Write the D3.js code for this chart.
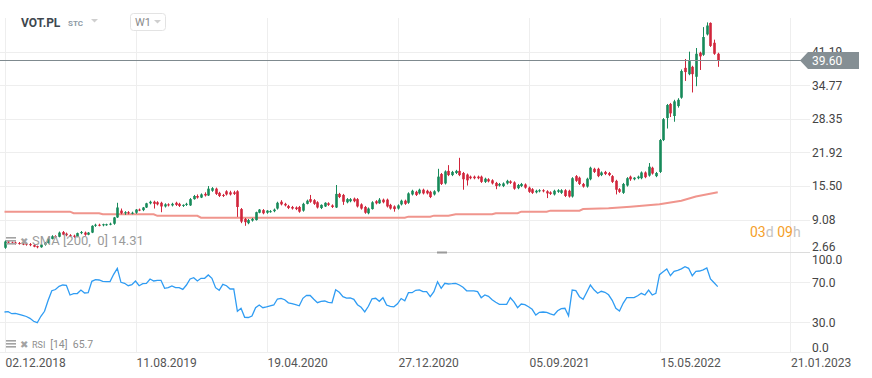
<!DOCTYPE html>
<html><head><meta charset="utf-8">
<script src="https://cdn.jsdelivr.net/npm/d3@7/dist/d3.min.js"></script>
<style>body{margin:0;background:#fff;}svg{display:block;font-family:Roboto,"Noto Sans",sans-serif;}</style>
</head><body><svg id="c" width="872" height="378"></svg>
<script>
// ---- DATA ----
const symbol = "VOT.PL";
const startWeek = "02.12.2018";
const dateTicks = ["02.12.2018","11.08.2019","19.04.2020","27.12.2020","05.09.2021","15.05.2022","21.01.2023"];
const priceTicks = [2.66, 9.08, 15.50, 21.92, 28.35, 34.77, 41.19];
const rsiTicks = [0, 30, 70, 100];
const lastPrice = 39.60;
const smaLast = 14.31;
const rsiLast = 65.7;

const opens = [3.7,4.9,4.7,4.7,4.6,4.5,4.5,4.4,4.2,4.0,3.8,4.3,4.6,5.4,5.9,5.8,6.7,6.4,6.1,6.0,
5.8,6.5,6.6,6.2,6.6,7.9,8.1,8.0,8.0,8.2,8.3,9.5,10.8,10.3,10.5,10.3,10.4,11.0,10.9,11.4,
12.2,12.5,12.4,12.3,11.6,12.0,11.8,12.3,12.1,11.7,11.9,11.8,13.0,13.6,13.3,14.0,13.7,14.6,15.0,14.2,
13.8,14.5,14.3,14.3,14.5,11.1,9.2,8.4,8.9,9.0,10.4,10.9,10.4,10.6,10.7,11.2,12.5,12.1,11.7,11.5,
11.4,11.5,10.8,12.1,13.0,12.8,12.4,11.3,11.6,12.2,11.8,11.4,14.0,13.8,12.4,12.6,13.1,13.0,12.0,11.5,
10.3,11.1,12.6,12.2,12.9,12.9,11.9,11.6,11.2,12.0,12.7,12.3,13.9,14.4,14.1,14.8,14.6,14.4,13.9,14.5,
17.8,16.0,18.4,17.6,18.0,18.4,18.0,17.7,17.3,17.3,17.3,17.3,16.3,16.8,16.6,16.1,15.6,15.5,16.0,16.4,
16.2,15.1,15.5,15.8,15.2,14.9,14.3,14.5,14.7,14.5,14.3,13.9,14.4,14.2,14.7,14.6,13.5,17.4,17.1,15.9,
15.4,16.8,18.8,18.8,17.6,18.2,18.0,17.4,16.5,14.9,14.2,15.6,17.3,16.8,17.0,17.0,18.1,17.5,19.0,17.4,
18.2,24.3,28.5,31.2,28.9,30.8,32.4,38.1,36.9,38.3,36.4,41.0,40.6,44.5,46.7,42.9,40.8];
const highs = [5.1,5.0,4.9,4.9,4.8,4.7,4.6,4.6,4.4,4.1,4.4,4.8,5.6,6.1,6.1,6.8,6.9,6.6,6.3,6.2,
6.6,6.9,6.8,6.7,8.0,8.3,8.3,8.3,8.3,8.5,9.6,12.3,11.2,10.7,10.7,10.6,11.1,11.2,11.5,12.3,
12.7,12.7,12.6,12.5,12.2,12.2,12.3,12.5,12.3,12.0,12.3,13.2,13.8,13.9,14.1,14.3,15.5,15.3,15.2,14.4,
14.0,14.7,14.6,14.6,14.7,11.3,9.4,9.2,9.4,10.6,11.1,11.1,10.9,10.9,11.2,12.5,12.8,12.3,11.9,11.7,
11.6,11.7,12.3,12.9,13.8,13.0,12.6,12.0,12.4,12.4,12.0,15.7,14.2,14.0,13.2,13.2,13.3,13.2,12.2,11.7,
11.4,12.6,12.8,13.2,13.1,13.1,12.1,11.8,12.0,12.9,12.9,14.3,14.8,14.6,15.0,15.0,14.8,14.6,14.7,18.8,
18.0,18.5,19.5,18.4,18.6,20.9,18.2,17.9,17.5,17.5,17.5,17.5,17.1,17.0,16.8,16.3,16.1,16.2,16.7,16.6,
16.4,15.9,16.1,16.0,15.4,15.1,14.8,14.9,14.9,14.7,14.5,14.8,14.9,14.9,14.9,14.8,17.2,17.6,17.3,16.1,
17.1,19.2,19.0,19.0,18.3,18.4,18.2,17.6,16.7,15.1,16.1,17.2,17.5,17.2,17.5,18.3,18.3,19.9,19.2,18.2,
24.5,28.5,31.2,31.4,32.0,32.3,37.8,39.8,41.2,38.5,41.9,41.2,45.9,46.8,46.8,43.5,41.0];
const lows = [3.5,4.5,4.4,4.3,4.3,4.2,4.1,4.0,3.8,3.6,3.7,4.1,4.5,5.3,5.6,5.7,6.1,5.9,5.8,5.6,
5.7,6.3,6.0,6.1,6.5,7.7,7.8,7.8,7.9,8.0,8.1,9.4,10.1,10.0,10.1,10.1,10.2,10.7,10.7,11.3,
12.0,11.2,11.8,10.5,11.4,11.6,11.6,11.7,11.5,11.5,11.7,11.7,12.9,13.1,13.2,13.5,13.6,14.4,13.8,13.4,
13.4,13.7,13.7,13.8,9.6,8.4,7.9,8.2,8.7,8.9,10.3,10.1,10.2,10.4,10.5,11.0,11.8,11.6,11.1,11.0,
10.9,10.4,10.6,12.0,12.3,11.9,11.2,11.1,11.5,11.7,11.3,11.3,13.2,11.9,12.2,12.4,12.4,11.4,11.0,10.2,
10.1,11.0,12.0,12.1,12.2,11.4,11.0,10.6,11.0,11.8,11.9,12.1,13.7,13.6,13.9,13.9,13.9,13.2,13.7,14.3,
15.7,15.8,17.4,17.4,17.8,17.4,14.8,15.6,16.8,16.8,16.8,16.1,16.1,16.2,15.8,14.9,15.4,15.3,15.8,15.9,
14.8,14.9,15.3,15.0,14.2,14.0,14.1,14.3,14.3,13.2,13.8,13.7,14.2,14.0,13.4,13.3,13.3,16.3,15.7,15.2,
15.2,16.6,18.0,17.2,17.4,17.6,17.4,16.1,13.9,14.2,14.0,15.4,16.5,16.6,16.8,16.8,17.0,17.3,17.7,17.2,
18.0,24.1,26.5,28.7,27.8,30.5,32.2,35.6,36.7,33.4,34.6,37.7,40.4,44.3,42.1,40.6,38.3];
const closes = [4.9,4.7,4.6,4.5,4.5,4.4,4.3,4.2,3.9,3.8,4.3,4.6,5.4,5.9,5.8,6.6,6.2,6.1,6.0,5.8,
6.5,6.7,6.2,6.6,7.9,8.1,8.0,8.2,8.2,8.3,9.5,11.4,10.3,10.5,10.3,10.4,11.0,10.9,11.4,12.2,
12.5,12.1,12.0,11.6,12.0,11.8,12.1,11.9,11.7,11.9,12.1,13.0,13.6,13.3,13.9,13.7,15.0,15.1,14.0,13.6,
13.7,13.9,13.9,14.0,11.5,8.7,8.6,9.0,9.2,10.5,11.0,10.3,10.8,10.7,11.0,12.3,12.0,11.8,11.3,11.2,
11.1,10.6,12.1,12.7,12.5,12.1,11.4,11.9,12.3,11.9,11.5,14.0,13.4,12.5,13.0,13.0,12.6,11.6,11.2,10.4,
11.2,12.4,12.2,12.9,12.4,11.6,11.2,11.1,11.8,12.7,12.1,14.1,14.6,13.8,14.8,14.1,14.1,13.4,14.5,17.3,
15.9,18.3,17.6,18.2,18.4,17.6,16.8,16.6,17.0,17.0,17.0,16.3,16.9,16.4,16.0,15.5,15.9,16.0,16.5,16.1,
15.0,15.7,15.9,15.2,14.4,14.2,14.6,14.7,14.5,14.1,14.0,14.6,14.7,14.7,13.6,13.5,17.0,16.5,15.9,15.4,
16.9,19.0,18.2,17.4,18.1,17.8,17.6,16.3,14.8,14.4,15.9,17.0,16.8,17.1,17.3,18.1,17.2,19.2,17.9,18.0,
24.3,28.3,31.0,29.4,31.7,32.0,37.5,37.3,39.4,36.9,40.8,40.3,44.0,46.2,42.3,40.8,39.6];

const rsiValues = [40.3,40.6,38.6,39,38,37,35.8,34,31,29.6,36,41,52,61.6,62.8,66,67.3,67,57.3,58.6,
58.8,62.3,59.3,59.6,71,72.6,72.3,71,70.6,70.8,78,84,70,69,66.6,67.6,71.3,66.6,68.6,69,
73.3,71.3,72,72,64,64.6,66.3,64.6,64.6,62.9,67.3,73.3,74.6,71.3,74,74,77.3,74,64.6,62,
68,66.6,63.3,63.3,41,44,35,34.8,36.3,44.6,47.3,44.6,45.4,46.5,47.3,53.3,54,52.6,49.5,48.6,
47.6,46.5,54,57,56.8,53,49.6,51,51.3,50,49.5,62.5,60,55.6,54.2,54.3,53,47.6,45,40.5,
46,53.5,54,51,54.6,47.3,46,45.5,48.5,53.8,51.6,59.6,59.6,62,62.5,60.6,60.6,55.6,60.6,70.6,
64,69,68.3,68.6,69,67.3,65,61.5,61.5,61.4,60.6,54.6,57.3,56,52.5,50,48,48,48,54.6,
50.5,44.6,48.3,47.6,45.5,43,37.3,40,40.3,40,38.5,37.3,41.5,43.6,44,36.6,62.3,61.6,55.6,53,
60,67.3,62.5,59,61,60,57.5,52,44,41.3,49,54.6,54.6,54.6,56.5,59,57.3,62.3,57.3,59,
77.6,80.5,83.3,76.6,81,82,83.5,85.6,84,76.6,81,81.3,82.5,84.3,73.3,69.5,65.7];

const smaWeeks  = [0,18,19,26,27,41,42,53,54,110,111,117,118,122,124,134,135,141,142,149,150,158,159,166,172,180,186,190,196];
const smaValues = [10.6,10.6,10.3,10.3,10.1,10.1,9.8,9.8,9.45,9.45,9.65,9.65,9.84,9.84,10.1,10.1,10.3,10.3,10.6,10.6,10.8,10.8,11.1,11.25,11.56,12.0,12.7,13.5,14.31];

// ---- CHART ----
const svg = d3.select("#c");
const parse = d3.utcParse("%d.%m.%Y");
const fmtDate = d3.utcFormat("%d.%m.%Y");
const t0 = parse(startWeek);
const weekDate = i => d3.utcDay.offset(t0, 7 * i);
const tickDates = dateTicks.map(parse);

const x = d3.scaleUtc().domain([tickDates[0], tickDates[tickDates.length - 1]]).range([4.5, 790]);
const y = d3.scaleLinear().domain([2.66, 47.64]).range([253.2, 18]);
const yr = d3.scaleLinear().domain([0, 100]).range([352.3, 252.3]);

const gridC = "#eeeeee";
const grid = svg.append("g");
grid.selectAll("line.v").data(tickDates).join("line")
  .attr("x1", d => Math.round(x(d)) + 0.5).attr("x2", d => Math.round(x(d)) + 0.5)
  .attr("y1", 18).attr("y2", 353).attr("stroke", gridC);
grid.selectAll("line.p").data(priceTicks.slice(1)).join("line")
  .attr("x1", 0).attr("x2", 810)
  .attr("y1", d => Math.round(y(d)) + 0.5).attr("y2", d => Math.round(y(d)) + 0.5)
  .attr("stroke", gridC);
grid.selectAll("line.r").data([30, 70]).join("line")
  .attr("x1", 0).attr("x2", 810)
  .attr("y1", d => Math.round(yr(d)) + 0.5).attr("y2", d => Math.round(yr(d)) + 0.5)
  .attr("stroke", gridC);
grid.append("line").attr("x1", 0).attr("x2", 810).attr("y1", 352.5).attr("y2", 352.5).attr("stroke", gridC);
grid.append("line").attr("x1", 0).attr("x2", 810).attr("y1", 252.5).attr("y2", 252.5).attr("stroke", "#dcdcdc");
svg.append("rect").attr("x", 437).attr("y", 251.5).attr("width", 10).attr("height", 2).attr("fill", "#9a9a9a");

// SMA line
const smaLine = d3.line().x(d => x(weekDate(d[0]))).y(d => y(d[1]));
svg.append("path").datum(smaWeeks.map((w, k) => [w, smaValues[k]]))
  .attr("d", smaLine).attr("fill", "none").attr("stroke", "#f0958d").attr("stroke-width", 2);

// Candles
const up = "#178a5a", down = "#d1253b";
const candles = svg.append("g").selectAll("g").data(closes.map((c, i) => i)).join("g");
candles.append("line")
  .attr("x1", i => Math.round(x(weekDate(i))) + 0.5).attr("x2", i => Math.round(x(weekDate(i))) + 0.5)
  .attr("y1", i => y(highs[i])).attr("y2", i => y(lows[i]))
  .attr("stroke", i => closes[i] >= opens[i] ? up : down).attr("stroke-width", 1);
candles.append("rect")
  .attr("x", i => Math.round(x(weekDate(i))) - 0.8).attr("width", 2.6)
  .attr("y", i => y(Math.max(opens[i], closes[i])))
  .attr("height", i => Math.max(1, y(Math.min(opens[i], closes[i])) - y(Math.max(opens[i], closes[i]))))
  .attr("fill", i => closes[i] >= opens[i] ? up : down);

// RSI line
const rsiLine = d3.line().x((d, i) => x(weekDate(i))).y(d => yr(d));
svg.append("path").datum(rsiValues).attr("d", rsiLine)
  .attr("fill", "none").attr("stroke", "#2f9cf3").attr("stroke-width", 1.3);

// Price axis
const pa = svg.append("g").attr("transform", "translate(810,0)")
  .call(d3.axisRight(y).tickValues(priceTicks).tickSize(0).tickPadding(2).tickFormat(d3.format(".2f")));
pa.select(".domain").remove();
pa.selectAll("text").attr("fill", "#444").style("font-size", "12px").style("font-family", "Roboto")
  .attr("dy", d => d === 2.66 ? "-0.2em" : "0.32em");

// RSI axis
const ra = svg.append("g").attr("transform", "translate(810,0)")
  .call(d3.axisRight(yr).tickValues(rsiTicks).tickSize(0).tickPadding(2).tickFormat(d3.format(".1f")));
ra.select(".domain").remove();
ra.selectAll("text").attr("fill", "#444").style("font-size", "12px").style("font-family", "Roboto")
  .attr("dy", d => d === 100 ? "0.95em" : d === 0 ? "-0.05em" : "0.32em");

// Date axis
const da = svg.append("g").attr("transform", "translate(0,353)")
  .call(d3.axisBottom(x).tickValues(tickDates).tickSize(0).tickPadding(5).tickFormat(fmtDate));
da.select(".domain").remove();
da.selectAll("text").attr("fill", "#555").attr("text-anchor", "start").attr("x", 0.5)
  .style("font-size", "12px").style("font-family", "Roboto");

// Last price line + label
const ly = Math.round(y(lastPrice)) + 0.5;
svg.append("line").attr("x1", 0).attr("x2", 801).attr("y1", ly).attr("y2", ly).attr("stroke", "#7f8a8f");
svg.append("path").attr("d", `M800,${ly}L808,${ly - 8.5}L859,${ly - 8.5}L859,${ly + 8.5}L808,${ly + 8.5}Z`).attr("fill", "#858f94");
svg.append("text").attr("x", 812).attr("y", ly).attr("dy", "0.35em").attr("fill", "#fff")
  .style("font-size", "12px").style("font-family", "Roboto").text(lastPrice.toFixed(2));

// Countdown
const cd = svg.append("text").attr("x", 750).attr("y", 237).style("font-size", "14px").style("font-family", "Roboto");
cd.append("tspan").attr("fill", "#f5a02a").text("03");
cd.append("tspan").attr("fill", "#c4c4c4").text("d");
cd.append("tspan").attr("fill", "#f5a02a").text(" 09");
cd.append("tspan").attr("fill", "#c4c4c4").text("h");

// Header
svg.append("text").attr("x", 21).attr("y", 27).attr("fill", "#3e474f").style("font-weight", "bold")
  .style("font-size", "12px").text(symbol);
svg.append("text").attr("x", 68).attr("y", 26).attr("fill", "#8d9aa6").style("font-weight", "bold")
  .style("font-size", "8px").text("STC");
svg.append("path").attr("d", "M91,19L98,19L94.5,22.5Z").attr("fill", "#cfcfcf");
svg.append("rect").attr("x", 130.5).attr("y", 13.5).attr("width", 35).attr("height", 17).attr("rx", 3)
  .attr("fill", "#fff").attr("stroke", "#e3e3e3");
svg.append("text").attr("x", 135).attr("y", 26).attr("fill", "#8a8a8a").style("font-size", "11px").text("W1");
svg.append("path").attr("d", "M154,20L161,20L157.5,23.5Z").attr("fill", "#cfcfcf");

// Indicator labels
function icons(yy) {
  const g = svg.append("g").attr("fill", "#a3a3a3");
  g.append("rect").attr("x", 6).attr("y", yy - 7).attr("width", 10).attr("height", 1.6);
  g.append("rect").attr("x", 6).attr("y", yy - 4).attr("width", 10).attr("height", 1.6);
  g.append("rect").attr("x", 6).attr("y", yy - 1).attr("width", 10).attr("height", 1.6);
  g.append("text").attr("x", 20).attr("y", yy + 0.5).style("font-size", "10px").style("font-family", "DejaVu Sans").text("✖");
}
icons(244);
svg.append("text").attr("x", 32).attr("y", 245).attr("fill", "#9b9b9b").style("font-size", "13px")
  .style("white-space", "pre").text(`SMA [200,  0] ${smaLast.toFixed(2)}`);
icons(347);
const rl = svg.append("text").attr("x", 32).attr("y", 348).attr("fill", "#8e8e8e").style("white-space", "pre");
rl.append("tspan").style("font-size", "9px").text("RSI ");
rl.append("tspan").style("font-size", "10.5px").text(` [14]  ${rsiLast.toFixed(1)}`);
</script></body></html>
